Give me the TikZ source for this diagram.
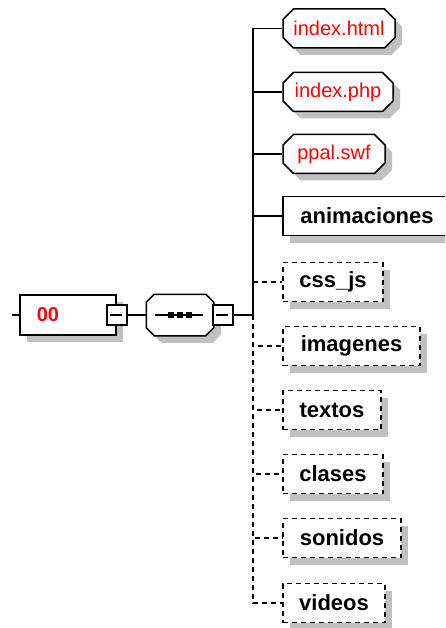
\documentclass[tikz,border=0pt]{standalone}
\usepackage{fontspec}
\setmainfont{Liberation Sans}
\usetikzlibrary{shapes.misc,shadows}
\definecolor{shadowgray}{HTML}{C0C0C0}
\begin{document}
\begin{tikzpicture}[x=1pt,y=-1pt,line width=1.5pt,
  shad/.style={drop shadow={shadow xshift=7pt,shadow yshift=-7pt,opacity=1,fill=shadowgray}},
  opt/.style={dash pattern=on 5pt off 4pt},
  elem/.style={draw,fill=white,shad,minimum height=39pt,inner sep=0pt,
    font=\bfseries\fontsize{22}{26}\selectfont},
  leaf/.style={chamfered rectangle,chamfered rectangle xsep=7pt,draw,fill=white,shad,
    minimum height=39pt,inner sep=0pt,text=red,font=\fontsize{20}{24}\selectfont},
  cbox/.style={draw,fill=white,minimum size=20pt,inner sep=0pt},
  sq/.style={fill=black,minimum size=6pt,inner sep=0pt}]
\useasboundingbox (0,0) rectangle (445,628);
\clip (0,0) rectangle (445,628);
% root element
\coordinate (rin) at (12,315);
\node[draw,fill=white,shad,minimum width=96pt,minimum height=40pt,inner sep=0pt] (root) at (68,315) {};
\node[text=red,font=\bfseries\fontsize{20}{24}\selectfont,inner sep=0pt] (rootlabel) at (48,315) {00};
\draw (rin) -- (root.west);
\node[cbox] (rc) at (root.east) {};
\draw (rc.west) ++(4,0) -- ++(12,0);
% sequence compositor
\node[minimum width=66pt,minimum height=40pt,inner sep=0pt] (seq) at (180,315) {};
\path[draw,fill=white,shad]
  ([xshift=8pt]seq.north west) -- ([xshift=-8pt]seq.north east)
  -- ([yshift=-8pt]seq.north east) -- ([yshift=8pt]seq.south east)
  -- ([xshift=-8pt]seq.south east) -- ([xshift=8pt]seq.south west)
  -- ([yshift=8pt]seq.south west) -- ([yshift=-8pt]seq.north west) -- cycle;
\draw (rc.east) -- (seq.west);
\coordinate (sl) at (155,315);
\coordinate (sr) at (203,315);
\draw (sl) -- (sr);
\node[sq] (s1) at (171,315) {};
\node[sq] (s2) at (180,315) {};
\node[sq] (s3) at (189,315) {};
\node[cbox] (sc) at (223,315) {};
\draw (sc.west) ++(4,0) -- ++(12,0);
\coordinate (tr) at (253,315);
\draw (sc.east) -- (tr);
% children
\node[leaf,minimum width=112pt] (c1) at (339,28.5) {index.html};
\node[leaf,minimum width=110pt] (c2) at (338,92) {index.php};
\node[leaf,minimum width=102pt] (c3) at (334,154) {ppal.swf};
\node[elem,minimum width=168pt] (c4) at (367,216) {animaciones};
\node[elem,opt,minimum width=100pt] (c5) at (333,282) {css\_js};
\node[elem,opt,minimum width=137pt] (c6) at (351.5,346) {imagenes};
\node[elem,opt,minimum width=98pt] (c7) at (332,410) {textos};
\node[elem,opt,minimum width=100pt] (c8) at (333,474) {clases};
\node[elem,opt,minimum width=118pt] (c9) at (342,538) {sonidos};
\node[elem,opt,minimum width=102pt] (c10) at (334,603) {videos};
% connectors
\draw (tr) |- (c1.west);
\draw (tr) |- (c2.west);
\draw (tr) |- (c3.west);
\draw (tr) |- (c4.west);
\draw[opt] (tr |- c5.west) -- (c5.west);
\draw[opt] (tr) |- (c6.west);
\draw[opt] (tr) |- (c7.west);
\draw[opt] (tr) |- (c8.west);
\draw[opt] (tr) |- (c9.west);
\draw[opt] (tr) |- (c10.west);
\end{tikzpicture}
\end{document}
